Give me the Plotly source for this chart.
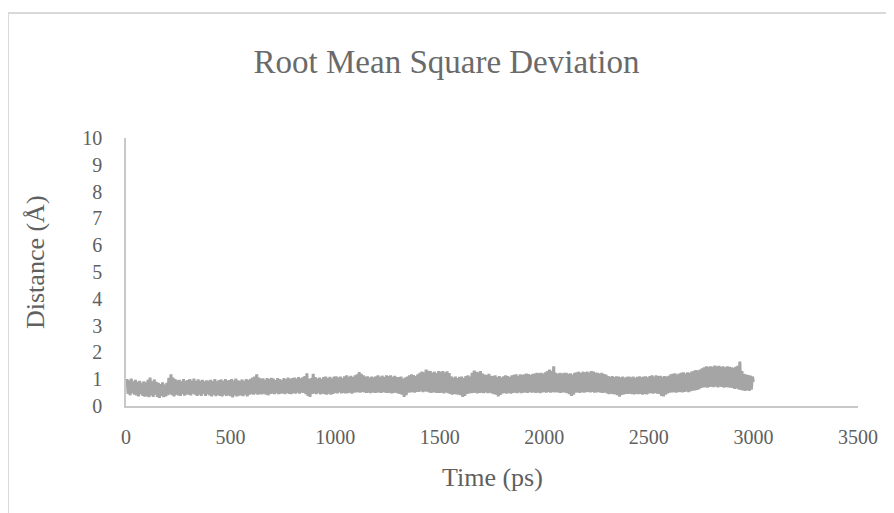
import plotly.graph_objects as go

# Time axis (ps), one sample every 5 ps
time_ps = list(range(0, 3001, 5))

# RMSD values (Å)
rmsd = [
    0.72, 1.00, 0.45, 0.96, 0.40, 1.02, 0.48, 0.92, 0.42, 0.98,
    0.40, 0.90, 0.36, 0.94, 0.44, 0.86, 0.38, 0.92, 0.35, 0.88,
    0.36, 0.98, 0.33, 1.06, 0.40, 0.92, 0.34, 0.99, 0.42, 0.90,
    0.34, 0.86, 0.30, 0.82, 0.38, 0.88, 0.33, 0.80, 0.36, 0.86,
    0.40, 1.05, 0.44, 1.18, 0.40, 1.06, 0.36, 1.00, 0.42, 0.96,
    0.40, 0.98, 0.38, 0.92, 0.44, 1.00, 0.39, 0.94, 0.42, 0.97,
    0.42, 1.00, 0.40, 0.95, 0.46, 1.02, 0.42, 0.94, 0.38, 0.99,
    0.42, 0.94, 0.38, 0.98, 0.45, 0.92, 0.38, 0.96, 0.43, 0.95,
    0.40, 0.98, 0.36, 0.93, 0.42, 1.00, 0.37, 0.92, 0.41, 0.97,
    0.38, 0.99, 0.36, 0.94, 0.42, 1.00, 0.38, 0.95, 0.40, 0.97,
    0.37, 1.00, 0.32, 0.95, 0.40, 1.02, 0.36, 0.96, 0.39, 0.94,
    0.40, 0.99, 0.37, 0.94, 0.42, 1.00, 0.36, 0.97, 0.42, 1.01,
    0.44, 1.06, 0.42, 1.10, 0.46, 1.18, 0.42, 1.06, 0.44, 1.02,
    0.43, 1.03, 0.46, 0.98, 0.42, 1.04, 0.40, 1.00, 0.45, 1.05,
    0.46, 1.02, 0.44, 0.97, 0.48, 1.04, 0.44, 1.00, 0.46, 0.97,
    0.47, 1.04, 0.44, 1.00, 0.49, 1.06, 0.45, 1.01, 0.44, 1.04,
    0.48, 1.06, 0.46, 1.02, 0.50, 1.08, 0.46, 1.03, 0.50, 1.07,
    0.49, 1.12, 0.44, 1.22, 0.38, 1.00, 0.34, 1.04, 0.45, 1.20,
    0.47, 1.08, 0.44, 1.02, 0.48, 1.06, 0.43, 1.01, 0.46, 1.08,
    0.44, 1.10, 0.42, 1.04, 0.46, 1.09, 0.42, 1.03, 0.45, 1.10,
    0.49, 1.11, 0.47, 1.06, 0.51, 1.10, 0.47, 1.04, 0.49, 1.11,
    0.47, 1.14, 0.48, 1.09, 0.50, 1.13, 0.46, 1.08, 0.50, 1.14,
    0.51, 1.18, 0.52, 1.27, 0.50, 1.20, 0.53, 1.14, 0.51, 1.10,
    0.49, 1.11, 0.50, 1.06, 0.48, 1.10, 0.51, 1.07, 0.49, 1.11,
    0.50, 1.14, 0.51, 1.09, 0.49, 1.13, 0.52, 1.08, 0.50, 1.14,
    0.49, 1.12, 0.50, 1.14, 0.47, 1.09, 0.49, 1.13, 0.50, 1.08,
    0.47, 1.08, 0.45, 1.10, 0.42, 1.02, 0.34, 1.06, 0.40, 1.10,
    0.50, 1.14, 0.51, 1.18, 0.52, 1.15, 0.50, 1.12, 0.53, 1.18,
    0.53, 1.24, 0.55, 1.28, 0.52, 1.26, 0.54, 1.36, 0.53, 1.31,
    0.51, 1.30, 0.49, 1.25, 0.52, 1.28, 0.50, 1.23, 0.49, 1.30,
    0.49, 1.28, 0.50, 1.30, 0.47, 1.25, 0.51, 1.29, 0.48, 1.23,
    0.45, 1.11, 0.42, 1.06, 0.45, 1.10, 0.43, 1.04, 0.42, 1.09,
    0.40, 1.10, 0.34, 1.04, 0.38, 1.12, 0.45, 1.14, 0.47, 1.10,
    0.48, 1.24, 0.49, 1.32, 0.50, 1.28, 0.47, 1.26, 0.49, 1.30,
    0.50, 1.21, 0.48, 1.17, 0.51, 1.15, 0.48, 1.20, 0.50, 1.13,
    0.47, 1.12, 0.44, 1.14, 0.42, 1.08, 0.36, 1.12, 0.41, 1.06,
    0.47, 1.11, 0.48, 1.14, 0.46, 1.12, 0.49, 1.08, 0.46, 1.14,
    0.49, 1.16, 0.50, 1.18, 0.48, 1.13, 0.51, 1.18, 0.48, 1.16,
    0.50, 1.18, 0.51, 1.21, 0.49, 1.19, 0.52, 1.15, 0.50, 1.20,
    0.51, 1.21, 0.49, 1.24, 0.51, 1.22, 0.48, 1.24, 0.51, 1.21,
    0.52, 1.26, 0.50, 1.30, 0.53, 1.36, 0.50, 1.31, 0.52, 1.48,
    0.51, 1.24, 0.52, 1.20, 0.50, 1.24, 0.49, 1.21, 0.52, 1.24,
    0.50, 1.24, 0.48, 1.20, 0.44, 1.22, 0.38, 1.17, 0.42, 1.24,
    0.50, 1.26, 0.51, 1.28, 0.49, 1.23, 0.52, 1.28, 0.50, 1.26,
    0.52, 1.28, 0.53, 1.25, 0.51, 1.30, 0.53, 1.28, 0.50, 1.25,
    0.51, 1.24, 0.52, 1.21, 0.50, 1.24, 0.49, 1.19, 0.51, 1.17,
    0.47, 1.12, 0.44, 1.09, 0.46, 1.12, 0.44, 1.08, 0.43, 1.11,
    0.40, 1.10, 0.35, 1.07, 0.41, 1.10, 0.43, 1.05, 0.45, 1.09,
    0.45, 1.10, 0.46, 1.07, 0.44, 1.10, 0.43, 1.05, 0.45, 1.09,
    0.44, 1.11, 0.45, 1.07, 0.42, 1.10, 0.45, 1.11, 0.43, 1.07,
    0.47, 1.12, 0.48, 1.14, 0.46, 1.10, 0.49, 1.14, 0.46, 1.12,
    0.45, 1.13, 0.38, 1.09, 0.36, 1.12, 0.42, 1.10, 0.47, 1.13,
    0.50, 1.18, 0.51, 1.20, 0.52, 1.22, 0.50, 1.17, 0.52, 1.21,
    0.53, 1.24, 0.51, 1.26, 0.53, 1.21, 0.54, 1.26, 0.52, 1.24,
    0.55, 1.28, 0.57, 1.31, 0.58, 1.34, 0.60, 1.32, 0.63, 1.36,
    0.67, 1.41, 0.69, 1.44, 0.70, 1.48, 0.68, 1.46, 0.71, 1.48,
    0.72, 1.46, 0.70, 1.51, 0.73, 1.48, 0.69, 1.50, 0.72, 1.46,
    0.71, 1.48, 0.68, 1.44, 0.71, 1.48, 0.69, 1.46, 0.68, 1.44,
    0.67, 1.42, 0.64, 1.46, 0.66, 1.50, 0.62, 1.66, 0.60, 1.30,
    0.58, 1.20, 0.56, 1.17, 0.59, 1.15, 0.56, 1.13, 0.61, 1.10,
    0.90,
]

x_ticks = [0, 500, 1000, 1500, 2000, 2500, 3000, 3500]
y_ticks = [0, 1, 2, 3, 4, 5, 6, 7, 8, 9, 10]

title_text = "Root Mean Square Deviation"
x_title = "Time (ps)"
y_title = "Distance (Å)"

FONT = "Liberation Serif"
TXT = "#606060"
AX = "#c8c8c8"

fig = go.Figure()
fig.add_trace(go.Scatter(
    x=time_ps, y=rmsd, mode="lines",
    line=dict(color="#a5a5a5", width=3, simplify=False),
    showlegend=False, hoverinfo="skip",
))

# figure coordinates (page has an 8 px body margin)
W, H = 894, 513
L, R, T, B = 118, 44, 130, 115
pw, ph = W - L - R, H - T - B

def px_x(px):
    return (px - L) / pw

def px_y(py):
    return (H - B - py) / ph

fig.update_layout(
    width=W, height=H,
    margin=dict(l=L, r=R, t=T, b=B, pad=0),
    paper_bgcolor="white", plot_bgcolor="white",
    font=dict(family=FONT, color=TXT),
    title=dict(text=title_text, x=438.5 / W, xref="container", y=1 - 53 / H, yref="container",
               xanchor="center", yanchor="middle",
               font=dict(family=FONT, size=33, color="#6a6a6a")),
    xaxis=dict(range=[0, 3500], tickvals=x_ticks, ticktext=[str(v) for v in x_ticks],
               showgrid=False, zeroline=False, showline=True, linecolor=AX, linewidth=1.5,
               ticks="outside", ticklen=12, tickcolor="rgba(0,0,0,0)",
               tickfont=dict(family=FONT, size=20, color=TXT)),
    yaxis=dict(range=[0, 10], tickvals=y_ticks, ticktext=[str(v) for v in y_ticks],
               showgrid=False, zeroline=False, showline=True, linecolor=AX, linewidth=1.5,
               ticks="outside", ticklen=18, tickcolor="rgba(0,0,0,0)",
               tickfont=dict(family=FONT, size=20, color=TXT)),
    annotations=[
        dict(text=x_title, xref="paper", yref="paper", x=px_x(484), y=px_y(469),
             xanchor="center", yanchor="middle", showarrow=False,
             font=dict(family=FONT, size=26, color=TXT)),
        dict(text=y_title, xref="paper", yref="paper", x=px_x(27), y=px_y(254),
             xanchor="center", yanchor="middle", showarrow=False, textangle=-90,
             font=dict(family=FONT, size=26, color=TXT)),
    ],
    shapes=[
        dict(type="rect", xref="paper", yref="paper",
             x0=px_x(0), x1=px_x(W + 40),
             y0=px_y(H + 40), y1=px_y(5),
             line=dict(color="#d9d9d9", width=2), fillcolor="rgba(0,0,0,0)", layer="below"),
    ],
)

fig.write_html("out.html")
